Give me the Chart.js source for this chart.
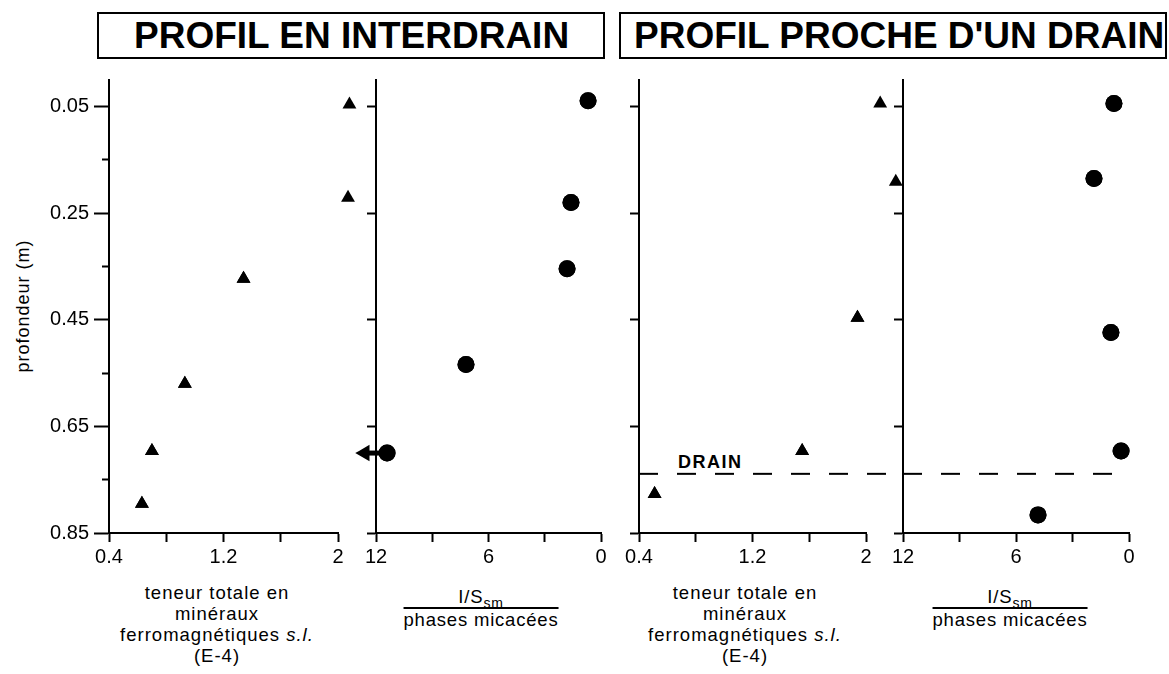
<!DOCTYPE html>
<html>
<head>
<meta charset="utf-8">
<script src="https://cdn.jsdelivr.net/npm/chart.js@4.4.0/dist/chart.umd.min.js"></script>
<style>
  body { margin: 0; background: #fff; font-family: 'Liberation Sans', Arial, sans-serif; color: #000; }
  #page { position: relative; width: 1169px; height: 674px; overflow: hidden; }
  #page canvas { position: absolute; left: 0; top: 0; }
  .titlebox { position: absolute; top: 12px; height: 47px; box-sizing: border-box; border: 2px solid #000;
              font-weight: bold; font-size: 37px; line-height: 43px; text-align: left; white-space: nowrap; overflow: hidden; }
  .xlabel { position: absolute; width: 260px; margin-left: -130px; text-align: center;
            font-size: 18.5px; line-height: 21px; letter-spacing: 1px; white-space: nowrap; }
  .frac { position: absolute; transform: translateX(-50%); text-align: center; font-size: 18.5px; letter-spacing: 0.8px; white-space: nowrap; }
  .frac .num { border-bottom: 2px solid #000; line-height: 21px; }
  .frac .num sub { font-size: 14px; line-height: 0; }
  .frac .den { line-height: 22px; }
  .ylabel { position: absolute; left: 23px; top: 306px; transform: translate(-50%, -50%) rotate(-90deg);
            font-size: 18px; letter-spacing: 1px; white-space: nowrap; }
  .drain { position: absolute; left: 678px; top: 452px; font-weight: bold; font-size: 18px; letter-spacing: 1.5px; }
</style>
</head>
<body>
<div id="page">
  <div class="titlebox" style="left:97px; width:508px; padding-left:35px;">PROFIL EN INTERDRAIN</div>
  <div class="titlebox" style="left:619px; width:548px; padding-left:13px;">PROFIL PROCHE D'UN DRAIN</div>

  <div class="ylabel">profondeur (m)</div>
  <div class="drain">DRAIN</div>

  <div class="xlabel" style="left:217px; top:582px;">teneur totale en<br>minéraux<br>ferromagnétiques <i>s.l.</i><br>(E-4)</div>
  <div class="xlabel" style="left:745px; top:582px;">teneur totale en<br>minéraux<br>ferromagnétiques <i>s.l.</i><br>(E-4)</div>

  <div class="frac" style="left:481px; top:586px;"><div class="num">I/S<sub>sm</sub></div><div class="den">phases micacées</div></div>
  <div class="frac" style="left:1010px; top:586px;"><div class="num">I/S<sub>sm</sub></div><div class="den">phases micacées</div></div>
</div>

<script>
// depth axis (m), shared by the four panels
const depthTicks = [0.05, 0.15, 0.25, 0.35, 0.45, 0.55, 0.65, 0.75, 0.85];
const depthLabels = [0.05, 0.25, 0.45, 0.65, 0.85];

// x axes
const ferroTicks = [0.4, 0.8, 1.2, 1.6, 2];
const ferroLabels = [0.4, 1.2, 2];
const ratioTicks = [0, 3, 6, 9, 12];
const ratioLabels = [0, 6, 12];

// profil en interdrain
const interFerroDepth = [0.046, 0.221, 0.373, 0.570, 0.696, 0.795];
const interFerroValue = [2.08, 2.07, 1.34, 0.93, 0.70, 0.63];
const interRatioDepth = [0.039, 0.230, 0.354, 0.534, 0.700];
const interRatioValue = [0.69, 1.60, 1.81, 7.20, 11.41];
// off-scale value: arrow from the last point towards the left
const interArrowValue = [11.41, 12.6];

// profil proche d'un drain
const drainFerroDepth = [0.044, 0.191, 0.446, 0.696, 0.777];
const drainFerroValue = [2.10, 2.21, 1.94, 1.55, 0.51];
const drainRatioDepth = [0.044, 0.185, 0.474, 0.696, 0.816];
const drainRatioValue = [0.80, 1.86, 0.96, 0.42, 4.83];
const drainDepth = 0.739;
const drainLineFerro = [0.4, 2.26];
const drainLineRatio = [12, 0];

const W = 1169, H = 674;
const FONT = "'Liberation Sans', Arial, sans-serif";
const plotTop = 80, plotBottom = 533, xAxisH = 40;

// points past the axis end (x > 2, arrow head) are skipped by Chart.js, draw them again without the area check
const drawOutside = {
  id: 'drawOutside',
  afterDatasetsDraw(chart) {
    chart.getSortedVisibleDatasetMetas().forEach(meta => {
      meta.data.forEach(el => el.draw(chart.ctx));
    });
  }
};

function pts(xs, ys) {
  return xs.map((x, i) => ({ x: x, y: ys[i] }));
}

function flat(xs, y) {
  return xs.map(x => ({ x: x, y: y }));
}

function depthAxis(withLabels) {
  const list = withLabels ? depthTicks : depthLabels;
  return {
    type: 'linear',
    position: 'left',
    reverse: true,
    min: 0,
    max: 0.85,
    afterBuildTicks: a => { a.ticks = list.map(v => ({ value: v })); },
    afterFit: a => { a.width = withLabels ? 100 : 20; },
    border: { display: true, color: '#000', width: 2 },
    grid: {
      drawOnChartArea: false,
      drawTicks: true,
      tickLength: withLabels ? 15 : 9,
      tickWidth: 2,
      tickColor: '#000',
      tickBorderDash: c => (c.tick && !depthLabels.includes(c.tick.value)) ? [0, 8, 7, 0] : []
    },
    ticks: {
      display: withLabels,
      padding: 5,
      color: '#000',
      font: { family: FONT, size: 20 },
      callback: v => depthLabels.includes(v) ? v.toFixed(2) : ''
    }
  };
}

function valueAxis(min, max, reverse, list, labels) {
  return {
    type: 'linear',
    position: 'bottom',
    min: min,
    max: max,
    reverse: reverse,
    afterBuildTicks: a => { a.ticks = list.map(v => ({ value: v })); },
    afterFit: a => { a.height = xAxisH; },
    border: { display: true, color: '#000', width: 2 },
    grid: { drawOnChartArea: false, drawTicks: true, tickLength: 9, tickWidth: 2, tickColor: '#000' },
    ticks: {
      autoSkip: false,
      maxRotation: 0,
      padding: 3,
      color: '#000',
      font: { family: FONT, size: 20 },
      callback: v => labels.includes(v) ? String(v) : ''
    }
  };
}

function triangles(data) {
  return { data: data, pointStyle: 'triangle', pointRadius: 8, backgroundColor: '#000', borderWidth: 0, clip: false };
}

function dots(data) {
  return { data: data, pointStyle: 'circle', pointRadius: 8.5, backgroundColor: '#000', borderWidth: 0, clip: false };
}

function dashed(data) {
  return { data: data, showLine: true, borderColor: '#000', borderWidth: 2, borderDash: [19, 19], pointRadius: 0, clip: false };
}

function makePanel(left, right, withLabels, xAxis, datasets) {
  const canvas = document.createElement('canvas');
  canvas.width = W;
  canvas.height = H;
  document.getElementById('page').appendChild(canvas);
  const yW = withLabels ? 100 : 20;
  return new Chart(canvas.getContext('2d'), {
    type: 'scatter',
    data: { datasets: datasets },
    plugins: [drawOutside],
    options: {
      responsive: false,
      animation: false,
      layout: { padding: { left: left - yW, right: W - right, top: plotTop, bottom: H - plotBottom - xAxisH } },
      plugins: { legend: { display: false }, tooltip: { enabled: false } },
      scales: { x: xAxis, y: depthAxis(withLabels) }
    }
  });
}

makePanel(109, 338, true, valueAxis(0.4, 2, false, ferroTicks, ferroLabels), [
  triangles(pts(interFerroValue, interFerroDepth))
]);

makePanel(376, 601, false, valueAxis(0, 12, true, ratioTicks, ratioLabels), [
  dots(pts(interRatioValue, interRatioDepth)),
  {
    data: flat(interArrowValue, interRatioDepth[interRatioDepth.length - 1]),
    showLine: true,
    borderColor: '#000',
    borderWidth: 5,
    pointStyle: 'triangle',
    pointRadius: [0, 4.5],
    pointRotation: -90,
    backgroundColor: '#000',
    borderJoinStyle: 'miter',
    clip: false
  }
]);

makePanel(639, 866, false, valueAxis(0.4, 2, false, ferroTicks, ferroLabels), [
  triangles(pts(drainFerroValue, drainFerroDepth)),
  dashed(flat(drainLineFerro, drainDepth))
]);

makePanel(903, 1129, false, valueAxis(0, 12, true, ratioTicks, ratioLabels), [
  dots(pts(drainRatioValue, drainRatioDepth)),
  dashed(flat(drainLineRatio, drainDepth))
]);
</script>
</body>
</html>
